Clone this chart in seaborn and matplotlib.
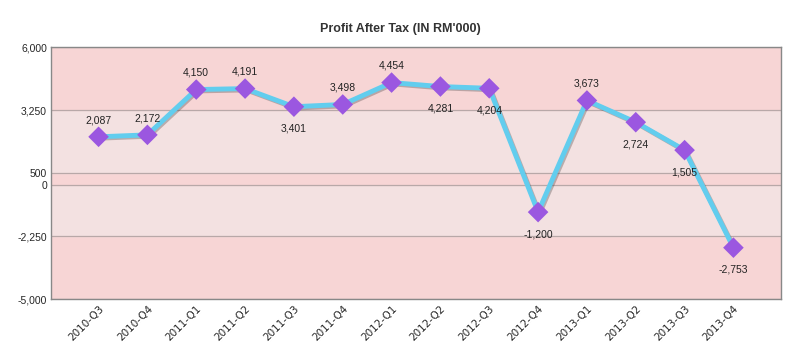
import pandas as pd
import matplotlib.pyplot as plt
import matplotlib.patheffects as pe
import seaborn as sns

# data
quarters = ["2010-Q3", "2010-Q4", "2011-Q1", "2011-Q2", "2011-Q3", "2011-Q4", "2012-Q1",
            "2012-Q2", "2012-Q3", "2012-Q4", "2013-Q1", "2013-Q2", "2013-Q3", "2013-Q4"]
profit = [2087, 2172, 4150, 4191, 3401, 3498, 4454, 4281, 4204, -1200, 3673, 2724, 1505, -2753]
label_pos = ["up", "up", "up", "up", "down", "up", "up", "down", "down", "down", "up", "down", "down", "down"]
y_ticks = [-5000, -2250, 0, 500, 3250, 6000]

df = pd.DataFrame({"idx": range(len(quarters)), "quarter": quarters, "profit": profit})

sns.set_style("white")
plt.rcParams["font.family"] = ["Liberation Sans", "DejaVu Sans"]

fig = plt.figure(figsize=(8, 3.6), dpi=100)
ax = fig.add_axes([0.064, 0.169, 0.912, 0.7])

# background bands
band_colors = ["#f7d5d5", "#f3e1e1", "#f7d5d5", "#f3e1e1", "#f7d5d5"]
for lo, hi, c in zip(y_ticks[:-1], y_ticks[1:], band_colors[::-1]):
    ax.axhspan(lo, hi, color=c, zorder=0)
for t in y_ticks:
    ax.axhline(t, color="#b8a8a8", lw=0.9, zorder=1)

sns.lineplot(data=df, x="idx", y="profit", color="#62cdee", lw=3.5, ax=ax, zorder=3,
             path_effects=[pe.SimpleLineShadow(offset=(1, -1), shadow_color="#333333", alpha=0.3),
                           pe.Normal()])
sns.scatterplot(data=df, x="idx", y="profit", marker="D", s=110, color="#9b57e0",
                edgecolor="none", ax=ax, zorder=4)

for i, (v, p) in enumerate(zip(profit, label_pos)):
    off = 12 if p == "up" else -16
    ax.annotate(f"{v:,}", (i, v), xytext=(0, off), textcoords="offset points",
                ha="center", va="center", fontsize=7.5, color="#222222")

ax.set_xlim(-0.97, 13.97)
ax.set_ylim(-5000, 6000)
ax.set_yticks(y_ticks)
ax.set_yticklabels([f"{t:,}" for t in y_ticks], fontsize=7.5)
ax.set_xticks(range(len(quarters)))
ax.set_xticklabels(quarters, rotation=45, ha="right", rotation_mode="anchor",
                   fontsize=7.5, family=["DejaVu Sans"])
ax.tick_params(axis="both", length=0, pad=3)
ax.set_xlabel("")
ax.set_ylabel("")
for s in ax.spines.values():
    s.set_color("#888888")
    s.set_linewidth(1)

fig.text(0.5, 0.92, "Profit After Tax (IN RM'000)", ha="center", va="center",
         fontsize=9, fontweight="bold", color="#333333")

fig.savefig("out.png", dpi=100)
